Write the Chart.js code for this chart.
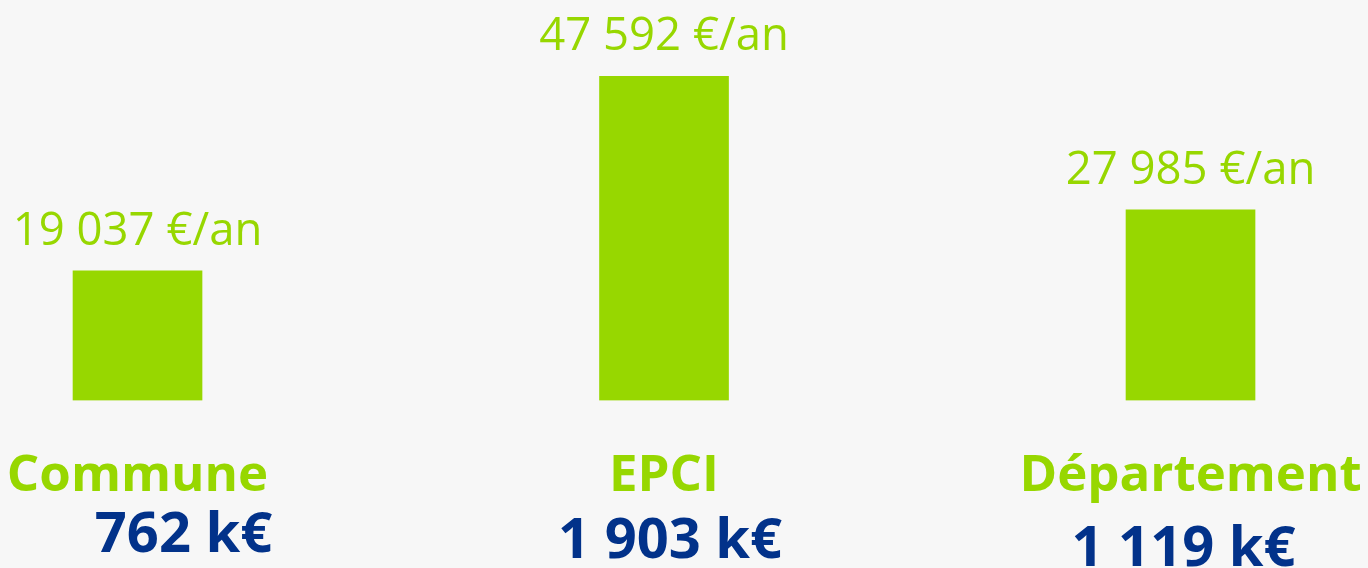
<!DOCTYPE html>
<html>
<head>
<meta charset="utf-8">
<script src="https://cdn.jsdelivr.net/npm/chart.js@4"></script>
<style>
  html, body { margin: 0; padding: 0; background: #f7f7f7; }
  #wrap { position: relative; width: 1368px; height: 568px; }
</style>
</head>
<body>
<div id="wrap"><canvas id="chart"></canvas></div>
<script>
// données
var categories = ['Commune', 'EPCI', 'Département'];
var perYear = [19037, 47592, 27985];      // €/an
var totalsK = [762, 1903, 1119];          // k€

var GREEN = '#97d700';
var BLUE = '#02328a';

function fmt(n) {
  return String(n).replace(/\B(?=(\d{3})+(?!\d))/g, ' ');
}

// le bloc "k€" n'est pas tout à fait centré sous chaque barre dans l'original
var totalDx = [46, 6, -7];
var totalBaseline = [552, 558, 566];

var labelsPlugin = {
  id: 'barLabels',
  afterDatasetsDraw: function (chart) {
    var ctx = chart.ctx;
    var meta = chart.getDatasetMeta(0);
    var xs = chart.scales.x;
    ctx.save();
    ctx.textAlign = 'center';
    ctx.textBaseline = 'alphabetic';
    meta.data.forEach(function (bar, i) {
      var cx = xs.getPixelForValue(i);

      ctx.fillStyle = GREEN;
      ctx.font = '400 45.5px "Open Sans"';
      ctx.fillText(fmt(perYear[i]) + ' €/an', bar.x, bar.y - 26);

      ctx.font = '700 51px "Open Sans"';
      ctx.fillText(categories[i], cx, 491);

      ctx.fillStyle = BLUE;
      ctx.font = '700 56px "Open Sans"';
      ctx.fillText(fmt(totalsK[i]) + ' k€', cx + totalDx[i], totalBaseline[i]);
    });
    ctx.restore();
  }
};

new Chart(document.getElementById('chart'), {
  type: 'bar',
  data: {
    datasets: [{
      data: perYear.map(function (v, i) { return { x: i, y: v }; }),
      backgroundColor: GREEN,
      borderWidth: 0,
      barThickness: 129
    }]
  },
  options: {
    responsive: true,
    maintainAspectRatio: false,
    animation: false,
    layout: { padding: { top: 0, bottom: 167.5, left: 0, right: 0 } },
    plugins: {
      legend: { display: false },
      tooltip: { enabled: false }
    },
    scales: {
      x: { type: 'linear', display: false, min: -0.2612, max: 2.3371, offset: false },
      y: { display: false, min: 0, max: 58800 }
    }
  },
  plugins: [labelsPlugin]
});
</script>
</body>
</html>
